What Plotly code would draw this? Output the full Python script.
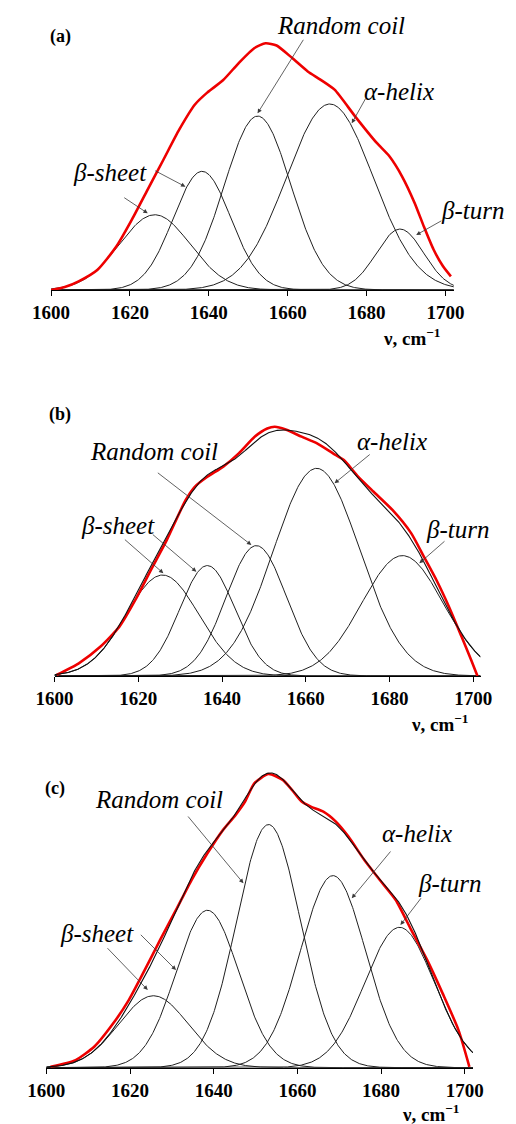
import numpy as np
import plotly.graph_objects as go

W, H = 516, 1124

# ---------------- data ----------------
tick_vals = [1600, 1620, 1640, 1660, 1680, 1700]
tick_text = ["1600", "1620", "1640", "1660", "1680", "1700"]
band_names = ["β-sheet", "β-sheet", "Random coil", "α-helix", "β-turn"]

# Gaussian band components: centre (cm-1), relative height, width sigma (cm-1)
a_center = [1626.3, 1638.3, 1652.4, 1670.7, 1688.5]
a_height = [0.305, 0.481, 0.705, 0.754, 0.247]
a_sigma = [9.0, 7.3, 8.4, 11.0, 6.0]

b_center = [1625.8, 1636.5, 1648.2, 1662.6, 1683.1]
b_height = [0.405, 0.443, 0.523, 0.833, 0.483]
b_sigma = [8.7, 6.6, 7.2, 10.3, 9.7]

c_center = [1625.6, 1638.5, 1653.1, 1668.5, 1684.4]
c_height = [0.245, 0.536, 0.828, 0.654, 0.478]
c_sigma = [8.3, 7.5, 7.6, 7.8, 8.3]

# measured amide I spectra (relative absorbance)
a_nu = [1600.0, 1603.5, 1607.0, 1611.8, 1616.6, 1620.5, 1624.5, 1628.5, 1632.5, 1636.5,
        1639.6, 1643.6, 1647.6, 1651.6, 1654.4, 1657.2, 1661.1, 1665.1, 1668.3, 1671.9,
        1677.1, 1682.6, 1685.8, 1689.0, 1692.2, 1694.6, 1697.0, 1699.4, 1701.4]
a_abs = [0.000, 0.012, 0.035, 0.082, 0.177, 0.285, 0.407, 0.528, 0.650, 0.752,
         0.800, 0.850, 0.920, 0.981, 1.000, 0.991, 0.941, 0.886, 0.853, 0.812,
         0.704, 0.596, 0.542, 0.461, 0.353, 0.255, 0.164, 0.096, 0.055]

b_nu = [1600.5, 1605.8, 1611.0, 1615.5, 1619.3, 1623.0, 1626.8, 1631.3, 1633.5, 1636.5,
        1640.3, 1644.0, 1647.8, 1650.8, 1652.6, 1655.2, 1659.0, 1662.7, 1666.5, 1669.1,
        1672.5, 1676.2, 1680.7, 1685.2, 1688.2, 1691.2, 1694.2, 1697.2, 1699.5, 1701.0]
b_abs = [0.004, 0.051, 0.118, 0.198, 0.305, 0.425, 0.545, 0.705, 0.759, 0.799,
         0.840, 0.893, 0.960, 0.993, 1.000, 0.989, 0.960, 0.933, 0.893, 0.866,
         0.800, 0.739, 0.666, 0.572, 0.479, 0.385, 0.278, 0.158, 0.064, 0.000]

c_nu = [1601.0, 1607.0, 1611.5, 1616.0, 1619.7, 1623.5, 1627.2, 1631.0, 1634.7, 1638.5,
        1642.2, 1645.2, 1647.5, 1649.7, 1653.1, 1656.5, 1658.7, 1661.0, 1663.2, 1666.2,
        1669.2, 1672.2, 1676.0, 1679.7, 1683.5, 1687.2, 1691.0, 1694.7, 1698.5, 1701.1]
c_abs = [0.003, 0.026, 0.072, 0.151, 0.230, 0.332, 0.435, 0.537, 0.639, 0.730,
         0.809, 0.860, 0.906, 0.968, 1.000, 0.980, 0.946, 0.906, 0.889, 0.872,
         0.838, 0.787, 0.707, 0.639, 0.571, 0.469, 0.367, 0.253, 0.128, 0.003]

# ---------------- layout geometry (pixels) ----------------
panels = [
    dict(c=a_center, h=a_height, s=a_sigma, nu=a_nu, ab=a_abs, x0=34.0, x100=452.7, xr=461.7,
         ytop=20.0, ybase=290.0, ypk=43.3, fit=False),
    dict(c=b_center, h=b_height, s=b_sigma, nu=b_nu, ab=b_abs, x0=37.7, x100=482.3, xr=490.0,
         ytop=400.0, ybase=676.0, ypk=426.7, fit=True),
    dict(c=c_center, h=c_height, s=c_sigma, nu=c_nu, ab=c_abs, x0=29.0, x100=473.3, xr=482.0,
         ytop=760.0, ybase=1067.7, ypk=774.0, fit=True),
]

SERIF = "'Liberation Serif', 'Times New Roman', Times, serif"


def gauss(x, c, h, s):
    return h * np.exp(-0.5 * ((x - c) / s) ** 2)


fig = go.Figure()
layout = {}
for i, p in enumerate(panels):
    sfx = "" if i == 0 else str(i + 1)
    xa, ya = "x" + sfx, "y" + sfx
    ppu = (p["x100"] - p["x0"]) / 100.0
    xend = 1600 + (p["xr"] - p["x0"]) / ppu
    ymax = (p["ybase"] - p["ytop"]) / (p["ybase"] - p["ypk"])
    grid = np.linspace(1600, xend, 600)
    total = np.zeros_like(grid)
    for c, h, s in zip(p["c"], p["h"], p["s"]):
        g = gauss(grid, c, h, s)
        total += g
        fig.add_trace(go.Scatter(x=grid, y=g, mode="lines", xaxis=xa, yaxis=ya,
                                 line=dict(color="#1f1f1f", width=1), showlegend=False,
                                 hoverinfo="skip"))
    fig.add_trace(go.Scatter(x=p["nu"], y=p["ab"], mode="lines", xaxis=xa, yaxis=ya,
                             line=dict(color="#ee0000", width=2.6, shape="spline", smoothing=0.6),
                             showlegend=False, hoverinfo="skip"))
    if p["fit"]:
        fig.add_trace(go.Scatter(x=grid, y=total, mode="lines", xaxis=xa, yaxis=ya,
                                 line=dict(color="#111111", width=1.1), showlegend=False,
                                 hoverinfo="skip"))
    layout["xaxis" + sfx] = dict(
        domain=[p["x0"] / W, p["xr"] / W], range=[1600, xend], anchor=ya,
        tickvals=tick_vals, ticktext=["<b>" + t + "</b>" for t in tick_text],
        ticks="outside", ticklen=5, tickwidth=1,
        tickcolor="black", showline=True, linecolor="black", linewidth=1,
        showgrid=False, zeroline=False,
        tickfont=dict(family=SERIF, size=19, color="black"),
    )
    layout["yaxis" + sfx] = dict(
        domain=[1 - p["ybase"] / H, 1 - p["ytop"] / H], range=[0, ymax], anchor=xa,
        visible=False, showgrid=False, zeroline=False,
    )

annotations = []


def label(text, cx, cy, size=25, italic=True, bold=False, anchor="center"):
    t = text
    if italic:
        t = "<i>" + t + "</i>"
    if bold:
        t = "<b>" + t + "</b>"
    annotations.append(dict(text=t, x=cx / W, y=1 - cy / H, xref="paper", yref="paper",
                            xanchor=anchor, yanchor="middle", showarrow=False,
                            font=dict(family=SERIF, size=size, color="black")))


def arrow(tx, ty, hx, hy):
    annotations.append(dict(text="", x=hx / W, y=1 - hy / H, xref="paper", yref="paper",
                            ax=tx - hx, ay=ty - hy, axref="pixel", ayref="pixel",
                            showarrow=True, arrowhead=2, arrowsize=1.1, arrowwidth=0.8,
                            arrowcolor="#3a3a3a", standoff=0, startstandoff=0))


# panel (a)
label("(a)", 44, 36, size=18, italic=False, bold=True)
label(band_names[2], 341.7, 26)
label(band_names[3], 403, 92)
label(band_names[0], 96.7, 172)
label(band_names[4], 481.7, 210)
arrow(300, 38.3, 253.3, 113.3)
arrow(368, 97, 353.3, 123.3)
arrow(111.7, 196.7, 136.7, 213.3)
arrow(145, 170, 176.7, 186.7)
arrow(448.3, 220, 421.7, 235)
label("ν, cm<sup>−1</sup>", 384.7, 337, size=19, italic=False, bold=True, anchor="left")

# panel (b)
label("(b)", 43.5, 414, size=18, italic=False, bold=True)
label(band_names[2], 143.3, 451)
label(band_names[3], 396, 441.5)
label(band_names[0], 105, 525)
label(band_names[4], 465.8, 529)
arrow(151.7, 471.7, 246.7, 545)
arrow(371.7, 453.3, 335, 483.3)
arrow(113.3, 538.3, 153.3, 573.3)
arrow(143.3, 533.3, 188.3, 571.7)
arrow(451.7, 540, 425, 563.3)
label("ν, cm<sup>−1</sup>", 414.3, 723, size=19, italic=False, bold=True, anchor="left")

# panel (c)
label("(c)", 38, 788.5, size=18, italic=False, bold=True)
label(band_names[2], 149, 799)
label(band_names[3], 422.5, 833)
label(band_names[0], 82.5, 933)
label(band_names[4], 457.5, 883)
arrow(181.7, 815, 238.3, 883.3)
arrow(393.3, 850, 353.3, 898.3)
arrow(95, 946.7, 136.7, 990)
arrow(130, 933.3, 166.7, 970)
arrow(426.7, 896.7, 405, 925)
label("ν, cm<sup>−1</sup>", 405, 1113, size=19, italic=False, bold=True, anchor="left")

fig.update_layout(
    width=W, height=H, margin=dict(l=0, r=0, t=0, b=0),
    paper_bgcolor="white", plot_bgcolor="white", showlegend=False,
    annotations=annotations, **layout,
)

fig.write_html("out.html")
